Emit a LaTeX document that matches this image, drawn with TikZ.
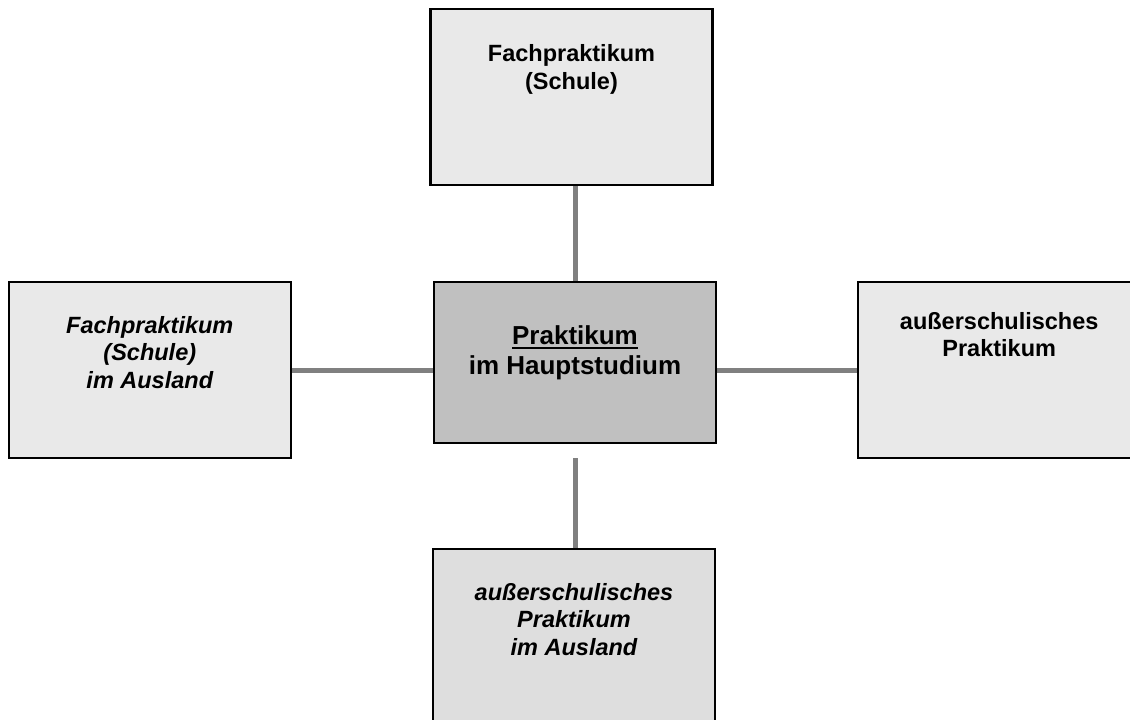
\documentclass[tikz,border=0pt]{standalone}
\usepackage{fontspec}
\setmainfont{Liberation Sans}
\usetikzlibrary{positioning, calc}
\definecolor{boxlight}{HTML}{E9E9E9}
\definecolor{boxlow}{HTML}{DEDEDE}
\definecolor{boxmid}{HTML}{C0C0C0}
\definecolor{linkgray}{HTML}{808080}
\newcommand\ulword[1]{\setbox0\hbox{#1}\rlap{\rule[-4.5pt]{\wd0}{2.6pt}}\box0}

\begin{document}
\begin{tikzpicture}[
      x=1pt, y=1pt,
      box/.style={rectangle, draw=black, line width=2.2pt, fill=boxlight,
        minimum width=282pt, minimum height=176pt, inner sep=0pt},
      hub/.style={box, fill=boxmid, minimum height=161pt},
      txt/.style={align=center, inner sep=0pt, font=\fontsize{23.5}{27.5}\selectfont\bfseries},
      hubtxt/.style={align=center, inner sep=0pt, font=\fontsize{26}{30}\selectfont\bfseries},
      link/.style={draw=linkgray, line width=5pt}
    ]
    \useasboundingbox (0,0) rectangle (1130,-720);
    \clip (0,0) rectangle (1130,-720);

    % ---- centre and the four surrounding boxes ----
    \node[hub] (hub) at (575,-362.5) {};
    \node[box, above=95pt of hub, xshift=-3.5pt] (schule) {};
    \node[box, left=141pt of hub, yshift=-7.5pt] (ausland) {};
    \node[box, right=140pt of hub, yshift=-7.5pt] (extern) {};
    \node[box, fill=boxlow, below=104pt of hub, xshift=-1pt] (externaus) {};

    % ---- texts, hung from the top edges ----
    \node[hubtxt, below=45pt of hub.north] (hubt)
      {\ulword{Praktikum}\\im Hauptstudium};
    \node[txt, below=37pt of schule.north] (schulet)
      {Fachpraktikum\\(Schule)};
    \node[txt, below=35pt of ausland.north] (auslandt)
      {\itshape Fachpraktikum\\\itshape (Schule)\\\itshape im Ausland};
    \node[txt, below=31pt of extern.north] (externt)
      {außerschulisches\\Praktikum};
    \node[txt, below=35pt of externaus.north] (externaust)
      {\itshape außerschulisches\\\itshape Praktikum\\\itshape im Ausland};

    % ---- connectors ----
    \coordinate (hubbelow) at ($(hub.south)+(0,-14pt)$);
    \draw[link] (hub.north) -- (hub.north |- schule.south);
    \draw[link] (hubbelow) -- (hubbelow |- externaus.north);
    \draw[link] (ausland.east) -- (ausland.east -| hub.west);
    \draw[link] (hub.east |- extern.west) -- (extern.west);
  \end{tikzpicture}
\end{document}
